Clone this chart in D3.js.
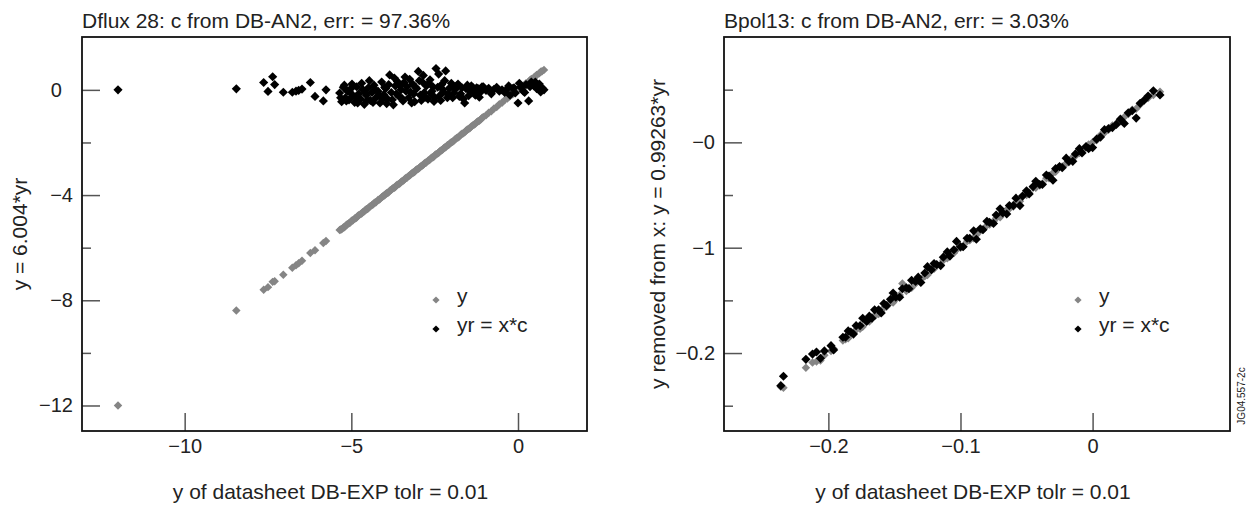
<!DOCTYPE html>
<html lang="en">
<head>
  <meta charset="UTF-8">
  <script type="text/javascript" src="https://cdn.jsdelivr.net/npm/d3@7/dist/d3.min.js"></script>
  <style>
	  body { margin:0; background:#fff; }
	  svg { display:block; font-family:"Liberation Sans", Arial, sans-serif; }
	  .tick line { stroke:#555; stroke-width:1.5; }
	  .tick text { font-size:20px; fill:#222; }
	  .domain { display:none; }
  </style>
</head>

<body>

<svg></svg>

<script type="text/javascript">
	// ---- left panel (Dflux 28) ----
	var leftTitle = "Dflux 28: c from DB-AN2, err: = 97.36%";
	var leftYTitle = "y = 6.004*yr";
	var leftX = [-12.0, -8.45, -7.63, -7.5, -7.36, -7.3, -7.04, -6.77, -6.66, -6.58,
		-6.48, -6.23, -6.09, -5.84, -5.76,
		-5.35, -5.29, -5.24, -5.18, -5.12, -5.07, -5.01, -4.95, -4.9, -4.84,
		-4.78, -4.72, -4.66, -4.61, -4.55, -4.49, -4.43, -4.38, -4.32, -4.26,
		-4.2, -4.14, -4.09, -4.03, -3.97, -3.91, -3.85, -3.8, -3.74, -3.68,
		-3.62, -3.57, -3.51, -3.45, -3.39, -3.33, -3.28, -3.22, -3.16, -3.1,
		-3.04, -2.99, -2.93, -2.87, -2.81, -2.75, -2.7, -2.64, -2.58, -2.52,
		-2.46, -2.41, -2.35, -2.29, -2.23, -2.17, -2.12, -2.06, -2.0,
		-1.92, -1.84, -1.76, -1.68, -1.6, -1.52, -1.44, -1.36, -1.28, -1.2,
		-1.12, -1.04, -0.96, -0.88, -0.8, -0.72, -0.64, -0.56, -0.48, -0.4,
		-0.32, -0.24, -0.16, -0.08, 0.0, 0.08, 0.16, 0.24, 0.32, 0.4,
		0.48, 0.56, 0.64, 0.72, 0.78,
		-5.32, -5.21, -5.15, -5.04, -4.98, -4.87, -4.81, -4.69, -4.58, -4.52,
		-4.46, -4.35, -4.29, -4.17, -4.06, -4.0, -3.94, -3.88, -3.77, -3.71,
		-3.65, -3.54, -3.48, -3.42, -3.36, -3.25, -3.19, -3.13, -3.07, -2.96,
		-2.9, -2.84, -2.78, -2.67, -2.61, -2.55, -2.49, -2.38, -2.32, -2.26,
		-2.2, -2.09, -2.03, -1.96, -1.88, -1.8, -1.72, -1.64, -1.56, -1.48,
		-1.4, -1.32, -1.24, -1.16, -1.08, -0.28, -0.12, 0.04, 0.2, 0.36,
		0.52, 0.68];
	var leftY = [-12.0, -8.39, -7.6, -7.5, -7.3, -7.28, -7.03, -6.76, -6.67, -6.59,
		-6.5, -6.2, -6.1, -5.82, -5.75,
		-5.33, -5.3, -5.23, -5.19, -5.11, -5.07, -5.0, -4.96, -4.89, -4.85,
		-4.77, -4.72, -4.65, -4.62, -4.54, -4.5, -4.42, -4.38, -4.31, -4.27,
		-4.19, -4.15, -4.08, -4.03, -3.96, -3.92, -3.84, -3.8, -3.73, -3.69,
		-3.61, -3.58, -3.5, -3.46, -3.38, -3.34, -3.27, -3.22, -3.15, -3.11,
		-3.03, -3.0, -2.92, -2.88, -2.8, -2.76, -2.69, -2.65, -2.57, -2.53,
		-2.45, -2.42, -2.34, -2.3, -2.22, -2.18, -2.11, -2.07, -1.99,
		-1.93, -1.83, -1.77, -1.67, -1.61, -1.51, -1.45, -1.35, -1.29, -1.19,
		-1.13, -1.03, -0.97, -0.87, -0.81, -0.71, -0.65, -0.55, -0.49, -0.39,
		-0.33, -0.23, -0.17, -0.07, 0.01, 0.09, 0.15, 0.25, 0.31, 0.41,
		0.47, 0.57, 0.63, 0.71, 0.76,
		-5.31, -5.22, -5.14, -5.05, -4.97, -4.88, -4.8, -4.7, -4.57, -4.53,
		-4.45, -4.36, -4.28, -4.18, -4.05, -4.01, -3.93, -3.89, -3.76, -3.72,
		-3.64, -3.55, -3.47, -3.43, -3.35, -3.26, -3.18, -3.14, -3.06, -2.97,
		-2.89, -2.85, -2.77, -2.68, -2.6, -2.56, -2.48, -2.39, -2.31, -2.27,
		-2.19, -2.1, -2.02, -1.97, -1.87, -1.81, -1.71, -1.65, -1.55, -1.49,
		-1.39, -1.33, -1.23, -1.17, -1.07, -0.27, -0.13, 0.05, 0.19, 0.37,
		0.51, 0.69];
	var leftYr = [0.0, 0.04, 0.28, -0.06, 0.5, 0.2, -0.09, -0.09, -0.05, -0.02,
		0.03, 0.28, -0.25, -0.42, 0.0,
		-0.12, -0.45, 0.1, -0.3, -0.05, -0.38, 0.05, -0.22, -0.48, 0.12,
		-0.15, -0.35, 0.02, -0.55, -0.2, 0.08, -0.4, -0.1, 0.18, -0.3,
		-0.05, -0.5, 0.3, -0.18, 0.05, -0.35, 0.57, -0.1, -0.57, 0.15,
		0.32, -0.25, 0.0, -0.42, 0.49, 0.12, -0.3, -0.08, 0.22, -0.45,
		0.05, 0.7, -0.2, 0.3, -0.1, 0.15, -0.35, 0.38, -0.05, -0.44,
		0.81, 0.1, -0.22, 0.2, -0.08, 0.72, -0.3, 0.05, 0.25,
		-0.12, 0.15, -0.25, 0.08, -0.5, 0.18, -0.05, 0.1, -0.2, 0.05,
		-0.08, 0.12, -0.02, 0.06, -0.15, 0.02, 0.1, -0.05, 0.0, -0.1,
		0.04, -0.2, 0.05, -0.12, -0.5, 0.1, -0.05, 0.2, -0.42, 0.3,
		0.15, 0.05, 0.22, 0.08, 0.0,
		-0.3, 0.18, -0.42, -0.1, 0.22, -0.28, -0.5, 0.25, -0.12, -0.4,
		0.35, -0.48, 0.0, -0.2, -0.35, 0.1, -0.52, 0.2, -0.38, 0.45,
		-0.15, 0.15, -0.32, 0.28, -0.05, 0.4, -0.5, -0.15, 0.1, 0.35,
		-0.4, 0.55, -0.28, 0.25, -0.15, 0.12, -0.3, 0.6, -0.4, 0.02,
		0.35, -0.18, 0.1, -0.3, 0.02, 0.22, -0.15, -0.35, 0.05, -0.22,
		0.15, -0.1, 0.08, -0.28, 0.12, 0.15, 0.08, 0.25, -0.1, 0.12,
		0.3, -0.08];
	var leftXTicks = [-10, -5, 0];
	var leftXLabels = ["\u221210", "\u22125", "0"];
	var leftYTicks = [0, -4, -8, -12];
	var leftYLabels = ["0\u2007", "\u22124", "\u22128", "\u221212"];
	var leftYMinor = [-2, -6, -10];

	// ---- right panel (Bpol13) ----
	var rightTitle = "Bpol13: c from DB-AN2, err: = 3.03%";
	var rightYTitle = "y removed from x: y = 0.99263*yr";
	var rightX = [-0.236, -0.234, -0.217, -0.212, -0.209, -0.206, -0.203, -0.198, -0.196,
		-0.189, -0.187, -0.185, -0.183, -0.181, -0.179, -0.176, -0.174, -0.171, -0.169,
		-0.167, -0.165, -0.162, -0.16, -0.158, -0.156, -0.153, -0.151, -0.149, -0.146,
		-0.144, -0.141, -0.139, -0.137, -0.134, -0.132, -0.13, -0.127, -0.125, -0.122,
		-0.12, -0.118, -0.115, -0.113, -0.11, -0.108, -0.105, -0.103, -0.1, -0.098,
		-0.095, -0.093, -0.09, -0.088, -0.085, -0.083, -0.08, -0.078, -0.075, -0.073,
		-0.07, -0.068, -0.065, -0.063, -0.06, -0.058, -0.055, -0.053, -0.05, -0.048,
		-0.045, -0.043, -0.04, -0.038, -0.035, -0.033, -0.03, -0.028, -0.025, -0.023,
		-0.02, -0.018, -0.015, -0.013, -0.01, -0.008, -0.005, -0.003, 0.0, 0.003,
		0.006, 0.009, 0.012, 0.015, 0.018, 0.021, 0.024, 0.027, 0.03, 0.033,
		0.036, 0.039, 0.042, 0.046, 0.051];
	var rightY = [-0.232, -0.233, -0.214, -0.209, -0.208, -0.207, -0.202, -0.198, -0.196,
		-0.188, -0.187, -0.186, -0.182, -0.181, -0.178, -0.177, -0.175, -0.17, -0.17,
		-0.166, -0.165, -0.163, -0.16, -0.157, -0.156, -0.152, -0.152, -0.149, -0.145,
		-0.134, -0.141, -0.138, -0.138, -0.134, -0.131, -0.13, -0.127, -0.126, -0.121,
		-0.12, -0.117, -0.116, -0.112, -0.11, -0.106, -0.105, -0.102, -0.1, -0.099,
		-0.094, -0.093, -0.091, -0.088, -0.084, -0.083, -0.079, -0.078, -0.075, -0.072,
		-0.071, -0.067, -0.064, -0.063, -0.061, -0.057, -0.056, -0.051, -0.05, -0.048,
		-0.043, -0.043, -0.041, -0.039, -0.034, -0.034, -0.029, -0.028, -0.023, -0.023,
		-0.02, -0.019, -0.014, -0.013, -0.01, -0.008, -0.005, -0.002, 0.0, 0.002,
		0.007, 0.009, 0.012, 0.016, 0.018, 0.02, 0.024, 0.027, 0.031, 0.032,
		0.036, 0.04, 0.042, 0.045, 0.048];
	var rightYr = [-0.231, -0.222, -0.206, -0.201, -0.199, -0.205, -0.198, -0.193, -0.197,
		-0.185, -0.185, -0.179, -0.18, -0.182, -0.174, -0.174, -0.167, -0.17, -0.165,
		-0.167, -0.159, -0.159, -0.162, -0.153, -0.155, -0.149, -0.143, -0.147, -0.147,
		-0.139, -0.138, -0.139, -0.131, -0.132, -0.128, -0.133, -0.124, -0.118, -0.121,
		-0.115, -0.116, -0.117, -0.109, -0.104, -0.108, -0.102, -0.094, -0.099, -0.099,
		-0.091, -0.091, -0.084, -0.092, -0.082, -0.083, -0.075, -0.076, -0.077, -0.069,
		-0.063, -0.067, -0.068, -0.06, -0.06, -0.053, -0.06, -0.051, -0.046, -0.049,
		-0.042, -0.037, -0.04, -0.04, -0.031, -0.032, -0.036, -0.025, -0.023, -0.024,
		-0.015, -0.018, -0.018, -0.011, -0.006, -0.01, -0.004, -0.006, -0.005, 0.003,
		0.005, 0.012, 0.013, 0.014, 0.017, 0.022, 0.018, 0.028, 0.03, 0.023,
		0.037, 0.04, 0.044, 0.049, 0.045];
	var rightXTicks = [-0.2, -0.1, 0];
	var rightXLabels = ["\u22120.2", "\u22120.1", "0"];
	var rightYTicks = [0, -0.1, -0.2];
	var rightYLabels = ["\u22120", "\u22121", "\u22120.2"];
	var rightYMinor = [0.05, -0.05, -0.15, -0.25];

	var xTitle = "y of datasheet DB-EXP tolr = 0.01";
	var legendLabels = ["y", "yr = x*c"];
	var grey = "#858585";

	var svg = d3.select("svg")
		.attr("width", 1249)
		.attr("height", 509);

	function drawPanel(p){
		var x = d3.scaleLinear().domain(p.xDomain).range([p.left, p.left + p.width]);
		var y = d3.scaleLinear().domain(p.yDomain).range([p.top + p.height, p.top]);
		var g = svg.append("g");

		// major y ticks (drawn inward)
		g.append("g")
		 .attr("transform", "translate(" + p.left + ",0)")
		 .call(d3.axisLeft(y).tickValues(p.yTicks)
			.tickFormat(function(d, i){ return p.yLabels[i]; })
			.tickSizeInner(-18).tickSizeOuter(0).tickPadding(9));
		// minor y ticks
		g.append("g")
		 .attr("transform", "translate(" + p.left + ",0)")
		 .call(d3.axisLeft(y).tickValues(p.yMinor).tickFormat("")
			.tickSizeInner(-9).tickSizeOuter(0));
		// x ticks
		g.append("g")
		 .attr("transform", "translate(0," + (p.top + p.height) + ")")
		 .call(d3.axisBottom(x).tickValues(p.xTicks)
			.tickFormat(function(d, i){ return p.xLabels[i]; })
			.tickSizeInner(-18).tickSizeOuter(0).tickPadding(8));

		// frame
		g.append("rect")
		 .attr("x", p.left).attr("y", p.top)
		 .attr("width", p.width).attr("height", p.height)
		 .attr("fill", "none").attr("stroke", "#111").attr("stroke-width", 1.8);

		var diamond = d3.symbol().type(d3.symbolSquare);
		var pts = p.xs.map(function(d, i){ return {x: d, y: p.ys[i], yr: p.yrs[i]}; });

		// y series (grey) first, then yr on top
		g.append("g").selectAll("path").data(pts).enter().append("path")
		 .attr("d", diamond.size(36)())
		 .attr("transform", function(d){ return "translate(" + x(d.x) + "," + y(d.y) + ") rotate(45)"; })
		 .attr("fill", grey);
		g.append("g").selectAll("path").data(pts).enter().append("path")
		 .attr("d", diamond.size(42)())
		 .attr("transform", function(d){ return "translate(" + x(d.x) + "," + y(d.yr) + ") rotate(45)"; })
		 .attr("fill", "#000");

		// legend
		var lx = p.left + 354, ly = p.top + 263;
		[grey, "#000"].forEach(function(c, i){
			g.append("path")
			 .attr("d", diamond.size(26)())
			 .attr("transform", "translate(" + lx + "," + (ly + i * 29) + ") rotate(45)")
			 .attr("fill", c);
			g.append("text")
			 .attr("x", lx + 21).attr("y", ly + i * 29 + 3)
			 .attr("font-size", 21).attr("fill", "#222")
			 .text(legendLabels[i]);
		});

		// title
		g.append("text")
		 .attr("x", p.left).attr("y", 28)
		 .attr("font-size", 21).attr("fill", "#222")
		 .text(p.title);
		// x axis title
		g.append("text")
		 .attr("x", p.left + p.width / 2 - 4).attr("y", 499)
		 .attr("font-size", 21).attr("fill", "#222")
		 .style("text-anchor", "middle")
		 .text(xTitle);
		// y axis title
		g.append("text")
		 .attr("transform", "translate(" + p.yTitleX + "," + (p.top + p.height / 2) + ") rotate(-90)")
		 .attr("font-size", 21).attr("fill", "#222")
		 .style("text-anchor", "middle")
		 .text(p.yTitle);
	}

	drawPanel({
		left: 82, top: 37, width: 505, height: 394,
		xDomain: [-13.08, 2.07], yDomain: [-12.97, 2.01],
		xs: leftX, ys: leftY, yrs: leftYr,
		xTicks: leftXTicks, xLabels: leftXLabels,
		yTicks: leftYTicks, yLabels: leftYLabels, yMinor: leftYMinor,
		title: leftTitle, yTitle: leftYTitle, yTitleX: 27
	});

	drawPanel({
		left: 724, top: 37, width: 506, height: 394,
		xDomain: [-0.279, 0.104], yDomain: [-0.274, 0.1],
		xs: rightX, ys: rightY, yrs: rightYr,
		xTicks: rightXTicks, xLabels: rightXLabels,
		yTicks: rightYTicks, yLabels: rightYLabels, yMinor: rightYMinor,
		title: rightTitle, yTitle: rightYTitle, yTitleX: 665
	});

	// figure reference, small and vertical at the right edge
	svg.append("text")
	 .attr("transform", "translate(1245,396) rotate(-90)")
	 .attr("font-size", 10).attr("fill", "#222")
	 .style("text-anchor", "middle")
	 .text("JG04.557-2c");
</script>
</body>
</html>
